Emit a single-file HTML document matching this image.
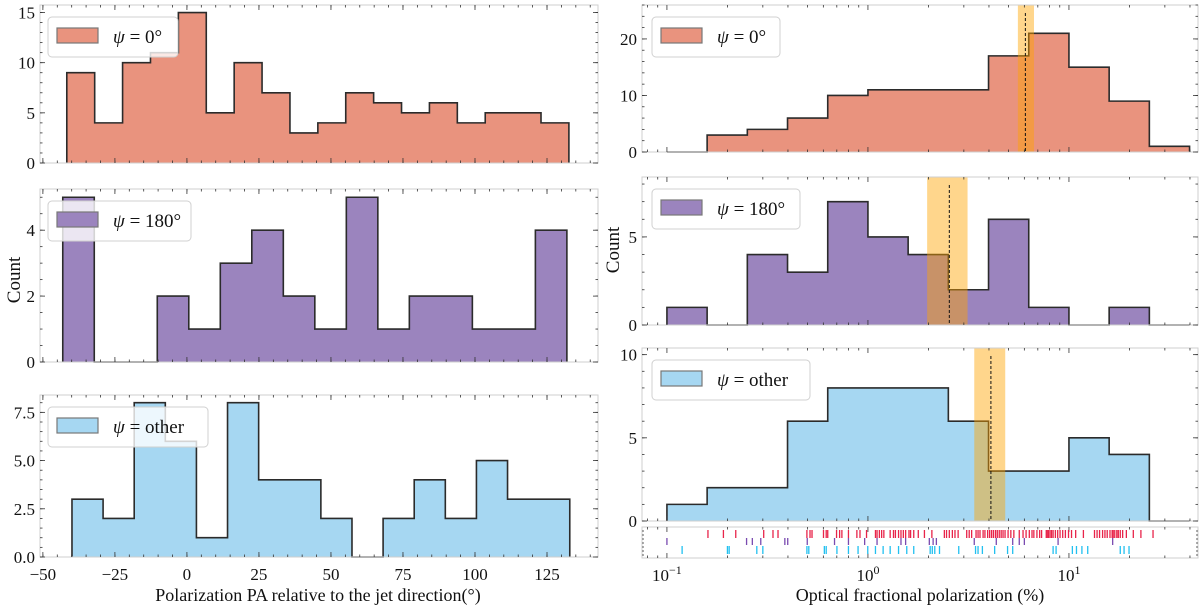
<!DOCTYPE html>
<html><head><meta charset="utf-8"><style>
html,body{margin:0;padding:0;background:#fff;}
svg text{font-family:"Liberation Serif","DejaVu Serif",serif;fill:#111;}
</style></head><body>
<svg id="chart" width="1200" height="609" viewBox="0 0 1200 609" xmlns="http://www.w3.org/2000/svg"></svg>
<script>
// ---------- data ----------
const paCounts0 = [9,4,10,11,15,5,10,7,3,4,7,6,5,6,4,5,5,4];
const paRange0 = [-41.7, 132.6];
const paCounts180 = [5,0,0,2,1,3,4,2,1,5,1,2,2,1,1,4];
const paRange180 = [-43.1, 131.9];
const paCountsOther = [3,2,8,6,1,8,4,4,2,0,2,4,2,5,3,3];
const paRangeOther = [-39.9, 132.9];
const paTicks = [-50,-25,0,25,50,75,100,125];
const fpLogRange = [-1, 1.6];
const fpCounts0 = [0,3,4,6,10,11,11,11,17,21,15,9,1];
const fpCounts180 = [1,0,4,3,7,5,4,2,6,1,0,1,0];
const fpCountsOther = [1,2,2,6,8,8,8,6,3,3,5,4,0];
const fpMedian = [6.07, 2.54, 4.09];
const fpBandLo = [5.57, 1.97, 3.38];
const fpBandHi = [6.70, 3.13, 4.82];
const rug0 = [0.160,0.191,0.220,0.303,0.337,0.357,0.497,0.515,0.527,0.601,0.620,0.631,0.698,0.723,0.742,0.800,0.881,0.913,0.984,1.09,1.11,1.14,1.17,1.20,1.29,1.34,1.37,1.42,1.46,1.50,1.54,1.60,1.63,1.69,1.78,1.91,2.08,2.40,2.46,2.54,2.63,2.71,2.81,3.10,3.19,3.28,3.45,3.53,3.61,3.74,3.82,3.94,4.03,4.12,4.21,4.31,4.40,4.50,4.60,4.70,4.81,4.98,5.14,5.32,5.66,5.91,6.12,6.35,6.55,6.69,6.93,7.15,7.31,7.71,7.80,7.91,8.05,8.19,8.34,8.56,8.79,9.03,9.31,9.60,9.95,10.3,10.8,11.8,13.4,13.8,14.2,14.7,15.1,15.5,16.0,16.4,16.6,16.9,17.3,17.6,18.0,18.5,19.3,20.9,22.8,26.2];
const rug180 = [0.100,0.249,0.266,0.293,0.386,0.399,0.499,0.682,0.800,0.963,1.11,1.46,1.54,2.02,2.11,2.19,3.38,4.35,5.25,5.66,6.00,8.83,16.5];
const rugOther = [0.119,0.200,0.204,0.280,0.300,0.497,0.508,0.607,0.620,0.701,0.800,0.893,0.998,1.09,1.19,1.29,1.42,1.56,1.69,2.04,2.09,2.15,2.27,2.83,3.43,3.53,3.71,4.27,4.95,5.25,8.34,8.63,10.4,10.9,11.6,12.4,18.0,18.8,19.9];

// ---------- helpers ----------
const NS = "http://www.w3.org/2000/svg";
const svg = document.getElementById("chart");
function mk(tag, attrs, parent) {
  const e = document.createElementNS(NS, tag);
  for (const k in attrs) e.setAttribute(k, attrs[k]);
  (parent || svg).appendChild(e);
  return e;
}
const FRAME = "#cfcfcf", TICK = "#333";
function linScale(d0, d1, r0, r1) { return v => r0 + (v - d0) * (r1 - r0) / (d1 - d0); }
function drawFrame(g, f) {
  const r = mk("rect", {x:f.x0, y:f.y0, width:f.x1-f.x0, height:f.y1-f.y0, fill:"none", stroke:FRAME, "stroke-width":1}, g);
  
  
}
function tickV(g, x, f, len) {
  mk("line", {x1:x, x2:x, y1:f.y1, y2:f.y1-len, stroke:TICK, "stroke-width":0.8}, g);
  mk("line", {x1:x, x2:x, y1:f.y0, y2:f.y0+len, stroke:TICK, "stroke-width":0.8}, g);
}
function tickH(g, y, f, len) {
  mk("line", {x1:f.x0, x2:f.x0+len, y1:y, y2:y, stroke:TICK, "stroke-width":0.8}, g);
  mk("line", {x1:f.x1, x2:f.x1-len, y1:y, y2:y, stroke:TICK, "stroke-width":0.8}, g);
}
function yTicks(g, f, ys, majors, minorStep, ymax, fmt) {
  for (let v = 0; v <= ymax + 1e-9; v += minorStep) tickH(g, ys(v), f, 2.5);
  majors.forEach(v => {
    tickH(g, ys(v), f, 5);
    const t = mk("text", {x:f.x0-5, y:ys(v)+6, "text-anchor":"end", "font-size":17}, g);
    t.textContent = fmt ? fmt(v) : String(v);
    
    
  });
}
function histPath(g, counts, edgeOf, xs, ys, fill, name) {
  let d = "M" + xs(edgeOf(0)) + "," + ys(0);
  counts.forEach((c, i) => {
    d += " L" + xs(edgeOf(i)) + "," + ys(c) + " L" + xs(edgeOf(i+1)) + "," + ys(c);
  });
  d += " L" + xs(edgeOf(counts.length)) + "," + ys(0);
  const p = mk("path", {d:d + " Z", fill:fill, stroke:"none"}, g);
  
  
  mk("path", {d:d, fill:"none", stroke:"#2b2b2b", "stroke-width":1.6}, g);
}
function legend(g, x, y, w, fill, label) {
  const lg = mk("g", {}, g);
  
  
  mk("rect", {x:x, y:y, width:w, height:40, rx:4, fill:"#fff", "fill-opacity":0.8, stroke:"#d0d0d0", "stroke-width":1}, lg);
  mk("rect", {x:x+9, y:y+11, width:41, height:15, fill:fill, stroke:"#777", "stroke-width":1.2}, lg);
  const t = mk("text", {x:x+65, y:y+26, "font-size":19}, lg);
  t.innerHTML = '<tspan font-style="italic">ψ</tspan> = ' + label;
  
  
}

// ---------- left column ----------
const LX0 = 40, LX1 = 598;
const xsL = linScale(-51.0, 142.7, LX0, LX1);
const leftPanels = [
  {f:{x0:LX0,x1:LX1,y0:5,y1:163}, counts:paCounts0, range:paRange0, ymax:15.75, majors:[0,5,10,15], minor:1, fill:"#E9937E", label:"0°", lw:130, name:"hist-pa-psi0"},
  {f:{x0:LX0,x1:LX1,y0:189,y1:362}, counts:paCounts180, range:paRange180, ymax:5.25, majors:[0,2,4], minor:0.5, fill:"#9B84BE", label:"180°", lw:143, name:"hist-pa-psi180"},
  {f:{x0:LX0,x1:LX1,y0:395,y1:557}, counts:paCountsOther, range:paRangeOther, ymax:8.4, majors:[0,2.5,5,7.5], minor:0.5, fill:"#A6D7F2", label:"other", lw:160, name:"hist-pa-other", fmt:v=>v.toFixed(1)}
];
leftPanels.forEach((P, idx) => {
  const g = mk("g", {});
  
  
  const ys = linScale(0, P.ymax, P.f.y1, P.f.y0);
  const n = P.counts.length, w = (P.range[1]-P.range[0]) / n;
  histPath(g, P.counts, i => P.range[0] + i*w, xsL, ys, P.fill, P.name);
  drawFrame(g, P.f);
  for (let v = -50; v <= 140; v += 5) tickV(g, xsL(v), P.f, 2.5);
  paTicks.forEach(v => tickV(g, xsL(v), P.f, 5));
  yTicks(g, P.f, ys, P.majors, P.minor, P.ymax, P.fmt);
  legend(g, 48, P.f.y0 + 12, P.lw, P.fill, P.label);
  if (idx === 2) {
    paTicks.forEach(v => {
      const t = mk("text", {x:xsL(v), y:580, "text-anchor":"middle", "font-size":17}, g);
      t.textContent = v < 0 ? "−" + Math.abs(v) : String(v);
      
      
    });
  }
});
let t = mk("text", {x:318, y:601, "text-anchor":"middle", "font-size":18});
t.textContent = "Polarization PA relative to the jet direction(°)";


t = mk("text", {x:0, y:0, "text-anchor":"middle", "font-size":19, transform:"translate(20,280) rotate(-90)"});
t.textContent = "Count";



// ---------- right column ----------
const RX0 = 642, RX1 = 1198;
const lxs = linScale(-1.124, 1.642, RX0, RX1);
const xsR = v => lxs(Math.log10(v));
const rightPanels = [
  {f:{x0:RX0,x1:RX1,y0:5,y1:152}, counts:fpCounts0, ymax:26, majors:[0,10,20], minor:2, fill:"#E9937E", label:"0°", lw:128, name:"hist-fp-psi0"},
  {f:{x0:RX0,x1:RX1,y0:177,y1:325}, counts:fpCounts180, ymax:8.4, majors:[0,5], minor:1, fill:"#9B84BE", label:"180°", lw:148, name:"hist-fp-psi180"},
  {f:{x0:RX0,x1:RX1,y0:348,y1:521}, counts:fpCountsOther, ymax:10.4, majors:[0,5,10], minor:1, fill:"#A6D7F2", label:"other", lw:158, name:"hist-fp-other"}
];
function logTicks(g, f, majLen, minLen) {
  for (let e = -2; e <= 1; e++) {
    for (let m = 1; m <= 9; m++) {
      const v = m * Math.pow(10, e);
      const x = xsR(v);
      if (x < f.x0 || x > f.x1) continue;
      tickV(g, x, f, m === 1 ? majLen : minLen);
    }
  }
}
rightPanels.forEach((P, idx) => {
  const g = mk("g", {});
  
  
  const ys = linScale(0, P.ymax, P.f.y1, P.f.y0);
  const n = P.counts.length, w = (fpLogRange[1]-fpLogRange[0]) / n;
  histPath(g, P.counts, i => Math.pow(10, fpLogRange[0] + i*w), xsR, ys, P.fill, P.name);
  const band = mk("rect", {x:xsR(fpBandLo[idx]), y:P.f.y0, width:xsR(fpBandHi[idx])-xsR(fpBandLo[idx]), height:P.f.y1-P.f.y0, fill:"#FFA500", "fill-opacity":0.45}, g);
  
  
  const ml = mk("line", {x1:xsR(fpMedian[idx]), x2:xsR(fpMedian[idx]), y1:P.f.y0+8, y2:P.f.y1, stroke:"#111", "stroke-width":1, "stroke-dasharray":"3,2"}, g);
  
  
  drawFrame(g, P.f);
  logTicks(g, P.f, 5, 2.5);
  yTicks(g, P.f, ys, P.majors, P.minor, P.ymax);
  legend(g, 652, P.f.y0 + 12, P.lw, P.fill, P.label);
});
const rugF = {x0:RX0, x1:RX1, y0:527, y1:558};
const rg = mk("g", {});


drawFrame(rg, rugF);
logTicks(rg, rugF, 5, 2.5);
for (let y = rugF.y0 + 4; y < rugF.y1; y += 4) tickH(rg, y, rugF, 2);
const rugSets = [[rug0, "#E8244A", 530, 538, "rug-psi0"], [rug180, "#7A4BB0", 538, 545, "rug-psi180"], [rugOther, "#22C0F0", 546, 554, "rug-other"]];
rugSets.forEach(([vals, col, y1, y2, nm]) => {
  vals.forEach(v => {
    const l = mk("line", {x1:xsR(v), x2:xsR(v), y1:y1, y2:y2, stroke:col, "stroke-width":1.3}, rg);
    
    
  });
});
[-1, 0, 1].forEach(e => {
  const tt = mk("text", {x:xsR(Math.pow(10, e)), y:581, "text-anchor":"middle", "font-size":17});
  tt.innerHTML = '10<tspan dy="-7" font-size="12">' + (e < 0 ? "−" + Math.abs(e) : e) + '</tspan>';
  
  
});
t = mk("text", {x:920, y:601, "text-anchor":"middle", "font-size":18});
t.textContent = "Optical fractional polarization (%)";


t = mk("text", {x:0, y:0, "text-anchor":"middle", "font-size":19, transform:"translate(619,250) rotate(-90)"});
t.textContent = "Count";


</script>
</body></html>
